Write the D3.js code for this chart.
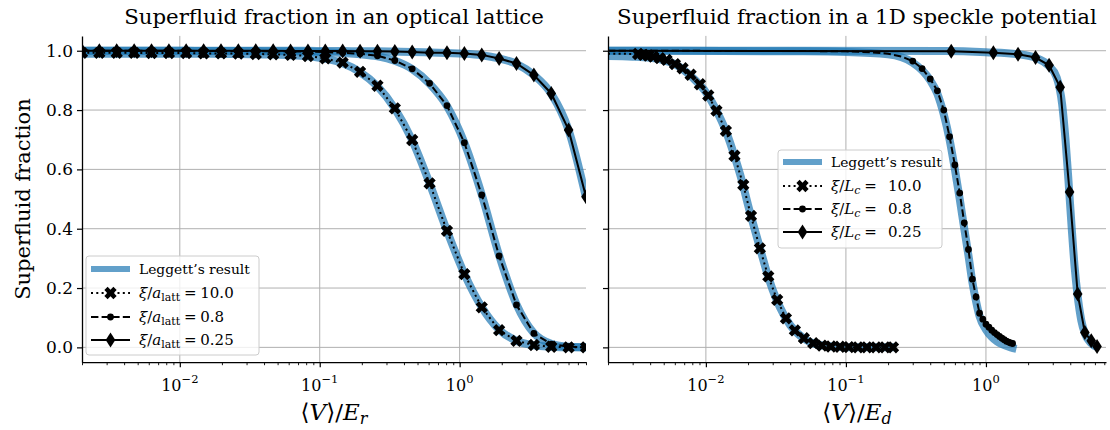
<!DOCTYPE html>
<meta charset="utf-8">
<script src="https://d3js.org/d3.v7.min.js"></script>
<style>
  body { margin: 0; background: #fff; }
  text { font-family: "DejaVu Serif", "Liberation Serif", serif; fill: #000; }
</style>
<div id="chart"></div>
<script>

// ---- data: optical lattice (left panel) ----
var lattV = [0.002, 0.00266, 0.00354, 0.00472, 0.00628, 0.00836, 0.0111, 0.0148, 0.0197, 0.0262,
             0.0349, 0.0465, 0.0619, 0.0824, 0.1096, 0.1459, 0.1943, 0.2586, 0.3442, 0.4582,
             0.6099, 0.8119, 1.081, 1.439, 1.915, 2.549, 3.393, 4.516, 6.011, 8.0];
var lattSim10  = [0.993, 0.993, 0.993, 0.993, 0.992, 0.992, 0.992, 0.991, 0.991, 0.990,
                  0.989, 0.988, 0.986, 0.982, 0.974, 0.960, 0.929, 0.882, 0.806, 0.699,
                  0.553, 0.393, 0.247, 0.135, 0.058, 0.022, 0.008, 0.002, 0.000, 0.000];
var lattSim08  = [1.000, 1.000, 1.000, 1.000, 1.000, 1.000, 1.000, 0.999, 0.999, 0.999,
                  0.999, 0.998, 0.998, 0.997, 0.995, 0.993, 0.990, 0.983, 0.967, 0.939,
                  0.890, 0.815, 0.690, 0.514, 0.308, 0.143, 0.047, 0.011, 0.002, 0.000];
var lattSim025 = [1.000, 1.000, 1.000, 1.000, 1.000, 1.000, 1.000, 1.000, 1.000, 1.000,
                  1.000, 1.000, 0.999, 0.999, 0.999, 0.999, 0.998, 0.998, 0.997, 0.996,
                  0.993, 0.993, 0.991, 0.986, 0.974, 0.957, 0.918, 0.856, 0.733, 0.508];
var lattLeggett10  = [0.990, 0.990, 0.990, 0.990, 0.990, 0.990, 0.990, 0.990, 0.989, 0.989,
                      0.988, 0.987, 0.985, 0.981, 0.973, 0.958, 0.928, 0.880, 0.805, 0.698,
                      0.553, 0.393, 0.248, 0.136, 0.060, 0.022, 0.007, 0.002, 0.000, 0.000];
var lattLeggett08  = [1.000, 1.000, 1.000, 1.000, 1.000, 1.000, 1.000, 0.999, 0.999, 0.999,
                      0.999, 0.998, 0.998, 0.997, 0.995, 0.992, 0.988, 0.981, 0.966, 0.938,
                      0.889, 0.814, 0.690, 0.515, 0.310, 0.145, 0.048, 0.012, 0.002, 0.000];
var lattLeggett025 = [1.000, 1.000, 1.000, 1.000, 1.000, 1.000, 1.000, 1.000, 1.000, 1.000,
                      1.000, 1.000, 1.000, 1.000, 0.999, 0.999, 0.998, 0.998, 0.997, 0.996,
                      0.994, 0.992, 0.990, 0.985, 0.974, 0.956, 0.918, 0.855, 0.732, 0.505];

// ---- data: 1D speckle (right panel) ----
var speckleV10   = [0, 0.00328, 0.00357, 0.00387, 0.00421, 0.00469, 0.00524, 0.00601, 0.00682, 0.00778,
                    0.00906, 0.0104, 0.0119, 0.0139, 0.0160, 0.0185, 0.0210, 0.0243, 0.0279, 0.0323,
                    0.0373, 0.0432, 0.0501, 0.0584, 0.0675, 0.0782, 0.0906, 0.105, 0.122, 0.141,
                    0.164, 0.190, 0.217];
var speckleSim10 = [0.990, 0.989, 0.986, 0.984, 0.980, 0.975, 0.969, 0.955, 0.941, 0.919,
                    0.887, 0.849, 0.798, 0.730, 0.646, 0.548, 0.443, 0.334, 0.239, 0.160,
                    0.098, 0.057, 0.031, 0.014, 0.006, 0.003, 0.002, 0.001, 0.000, 0.000,
                    0.000, 0.000, 0.000];
var speckleV08   = [0, 0.05, 0.1, 0.15, 0.2, 0.25, 0.3, 0.35, 0.4, 0.45, 0.5, 0.55, 0.6, 0.65, 0.7, 0.75,
                    0.8, 0.85, 0.9, 0.95, 1.0, 1.05, 1.1, 1.15, 1.2, 1.25, 1.3, 1.35, 1.4, 1.45, 1.5, 1.55];
var speckleSim08 = [1.000, 0.999, 0.998, 0.995, 0.990, 0.980, 0.965, 0.940, 0.905, 0.865, 0.800, 0.710,
                    0.615, 0.520, 0.420, 0.330, 0.230, 0.170, 0.115, 0.095, 0.078, 0.068, 0.058, 0.050,
                    0.043, 0.037, 0.031, 0.026, 0.021, 0.018, 0.015, 0.013];
var speckleV025   = [0, 0.565, 1.13, 1.695, 2.26, 2.825, 3.39, 3.955, 4.52, 5.085, 5.65, 6.215];
var speckleSim025 = [1.000, 0.998, 0.993, 0.988, 0.977, 0.951, 0.877, 0.524, 0.180, 0.050, 0.022, 0.003];

var speckleLeggV10  = [0.002, 0.003, 0.004, 0.005, 0.006, 0.008, 0.01, 0.012, 0.014, 0.016, 0.018,
                       0.02, 0.024, 0.028, 0.032, 0.036, 0.04, 0.05, 0.06, 0.08, 0.12, 0.22];
var speckleLegg10   = [0.982, 0.980, 0.976, 0.968, 0.955, 0.910, 0.860, 0.795, 0.725, 0.645, 0.565,
                       0.480, 0.345, 0.235, 0.160, 0.110, 0.075, 0.030, 0.012, 0.003, 0.000, 0.000];
var speckleLeggV08  = [0.002, 0.05, 0.1, 0.2, 0.3, 0.4, 0.45, 0.5, 0.55, 0.6, 0.65, 0.7, 0.75, 0.8,
                       0.85, 0.9, 1.0, 1.1, 1.2, 1.35, 1.5, 1.65];
var speckleLegg08   = [1.000, 0.998, 0.996, 0.988, 0.960, 0.900, 0.855, 0.785, 0.700, 0.600, 0.500,
                       0.400, 0.310, 0.220, 0.155, 0.105, 0.060, 0.035, 0.020, 0.008, 0.000, -0.005];
var speckleLeggV025 = [0.002, 0.5, 1.0, 1.7, 2.3, 2.8, 3.2, 3.5, 3.7, 3.9, 4.1, 4.3, 4.5, 4.8, 5.1, 5.6, 6.3];
var speckleLegg025  = [1.000, 0.999, 0.995, 0.988, 0.975, 0.950, 0.910, 0.820, 0.700, 0.550, 0.400,
                       0.270, 0.180, 0.090, 0.045, 0.015, 0.000];

// tick values
var xMajorTicks = [0.01, 0.1, 1];
var xTickExponents = ["\u22122", "\u22121", "0"];
var yTicks = [0.0, 0.2, 0.4, 0.6, 0.8, 1.0];

var zipXY = function(xs, ys) { return xs.map(function(v, i) { return [v, ys[i]]; }); };

var panels = [
  {
    left: 82, right: 586, xmax: 8,
    title: "Superfluid fraction in an optical lattice",
    xsub: "r",
    leggett: [zipXY(lattV, lattLeggett10), zipXY(lattV, lattLeggett08), zipXY(lattV, lattLeggett025)],
    sims: [
      {data: zipXY(lattV, lattSim10), dash: "2,3.3", marker: "X", value: "10.0", markMin: 0},
      {data: zipXY(lattV, lattSim08), dash: "7.4,3.2", marker: "o", value: "0.8", markMin: 0},
      {data: zipXY(lattV, lattSim025), dash: null, marker: "d", value: "0.25", markMin: 0}
    ],
    legend: {x: 86, y: 256, w: 173, h: 99, rows: [269, 293, 317, 340], sub: "a", subsub: "latt", gap: ""}
  },
  {
    left: 608, right: 1106, xmax: 7.2,
    title: "Superfluid fraction in a 1D speckle potential",
    xsub: "d",
    leggett: [zipXY(speckleLeggV10, speckleLegg10), zipXY(speckleLeggV08, speckleLegg08), zipXY(speckleLeggV025, speckleLegg025)],
    sims: [
      {data: zipXY(speckleV10, speckleSim10), dash: "2,3.3", marker: "X", value: "10.0", markMin: 0},
      {data: zipXY(speckleV08, speckleSim08), dash: "7.4,3.2", marker: "o", value: "0.8", markMin: 0.3},
      {data: zipXY(speckleV025, speckleSim025), dash: null, marker: "d", value: "0.25", markMin: 0}
    ],
    legend: {x: 778, y: 150, w: 164, h: 98, rows: [162, 186, 209, 232], sub: "L", subsub: "c", gap: "\u2002"}
  }
];

var yTop = 35.9, yBottom = 362.2;
var blue = "#1f77b4";

var svg = d3.select("#chart")
  .append("svg")
    .attr("width", 1110)
    .attr("height", 430);

// marker shapes
function markerPath(type) {
  if (type == "o") {
    return d3.symbol(d3.symbolCircle, Math.PI * 3.4 * 3.4)();
  }
  if (type == "d") {
    return "M0,-7.5L4.8,0L0,7.5L-4.8,0Z";
  }
  // filled X
  var L = 6.4, b = 2.3, c = Math.SQRT1_2;
  var pts = [[b,-L],[b,-b],[L,-b],[L,b],[b,b],[b,L],[-b,L],[-b,b],[-L,b],[-L,-b],[-b,-b],[-b,-L]];
  return "M" + pts.map(function(p) { return [(p[0] - p[1]) * c, (p[0] + p[1]) * c].join(","); }).join("L") + "Z";
}

var y = d3.scaleLinear().domain([-0.05, 1.05]).range([yBottom, yTop]);

panels.forEach(function(p, pi) {

  var x = d3.scaleLog().domain([0.002, p.xmax]).range([p.left, p.right]);
  var xmin = 0.002;
  var g = svg.append("g");

  // grid
  g.selectAll("line.vgrid").data(xMajorTicks).enter().append("line")
    .attr("x1", function(d) { return x(d); }).attr("x2", function(d) { return x(d); })
    .attr("y1", yTop).attr("y2", yBottom)
    .attr("stroke", "#b0b0b0").attr("stroke-width", 1);
  g.selectAll("line.hgrid").data(yTicks).enter().append("line")
    .attr("x1", p.left).attr("x2", p.right)
    .attr("y1", function(d) { return y(d); }).attr("y2", function(d) { return y(d); })
    .attr("stroke", "#b0b0b0").attr("stroke-width", 1);

  // clip to axes area
  g.append("clipPath").attr("id", "clip" + pi)
    .append("rect").attr("x", p.left).attr("y", yTop)
    .attr("width", p.right - p.left).attr("height", yBottom - yTop);
  var plot = g.append("g").attr("clip-path", "url(#clip" + pi + ")");

  var lineSmooth = d3.line()
    .curve(d3.curveMonotoneX)
    .x(function(d) { return x(Math.max(d[0], xmin)); })
    .y(function(d) { return y(d[1]); });
  var lineStraight = d3.line()
    .x(function(d) { return x(Math.max(d[0], xmin)); })
    .y(function(d) { return y(d[1]); });

  // Leggett's result
  p.leggett.forEach(function(s) {
    plot.append("path")
      .attr("d", lineSmooth(s))
      .attr("fill", "none")
      .attr("stroke", blue)
      .attr("stroke-opacity", 0.7)
      .attr("stroke-width", 8);
  });

  // simulations
  p.sims.forEach(function(s) {
    plot.append("path")
      .attr("d", lineStraight(s.data))
      .attr("fill", "none")
      .attr("stroke", "black")
      .attr("stroke-width", 2)
      .attr("stroke-dasharray", s.dash);
    plot.selectAll(null)
      .data(s.data.filter(function(d) { return d[0] > 0 && d[0] >= s.markMin; }))
      .enter().append("path")
      .attr("d", markerPath(s.marker))
      .attr("transform", function(d) { return "translate(" + x(d[0]) + "," + y(d[1]) + ")"; })
      .attr("fill", "black");
  });

  // Y axis
  var yAxis = d3.axisLeft(y).tickValues(yTicks).tickSize(5).tickSizeOuter(0).tickPadding(4)
    .tickFormat(pi == 0 ? d3.format(".1f") : "");
  g.append("g")
    .attr("transform", "translate(" + p.left + ",0)")
    .call(yAxis)
    .call(function(a) {
      a.attr("font-family", null).attr("font-size", 17);
      a.selectAll("line").attr("stroke-width", 1.2);
      a.select(".domain").attr("stroke-width", 1.3);
    });

  // X axis
  var minorTicks = [];
  [0.001, 0.01, 0.1, 1].forEach(function(e) {
    for (var m = 2; m <= 9; m++) {
      var v = m * e;
      if (v >= 0.002 && v <= p.xmax) minorTicks.push(v);
    }
  });
  var xAxis = d3.axisBottom(x).tickValues(xMajorTicks).tickSize(5).tickSizeOuter(0).tickFormat("");
  var gx = g.append("g")
    .attr("transform", "translate(0," + yBottom + ")")
    .call(xAxis);
  gx.selectAll("line").attr("stroke-width", 1.2);
  gx.select(".domain").attr("stroke-width", 1.3);
  g.append("g")
    .attr("transform", "translate(0," + yBottom + ")")
    .call(d3.axisBottom(x).tickValues(minorTicks).tickSize(3).tickSizeOuter(0).tickFormat(""))
    .call(function(a) { a.select(".domain").remove(); a.selectAll("line").attr("stroke-width", 0.9); });

  xMajorTicks.forEach(function(t, i) {
    var lab = g.append("text")
      .attr("x", x(t)).attr("y", 391)
      .attr("text-anchor", "middle")
      .attr("font-size", 16);
    lab.append("tspan").text("10");
    lab.append("tspan").attr("dy", -8).attr("font-size", 11.5).text(xTickExponents[i]);
  });

  // X label
  var xl = g.append("text")
    .attr("x", (p.left + p.right) / 2).attr("y", 420)
    .attr("text-anchor", "middle")
    .attr("font-size", 23);
  xl.append("tspan").text("\u27E8");
  xl.append("tspan").attr("font-style", "italic").text("V");
  xl.append("tspan").text("\u27E9/");
  xl.append("tspan").attr("font-style", "italic").text("E");
  xl.append("tspan").attr("font-style", "italic").attr("font-size", 16).attr("dy", 4).text(p.xsub);

  // title
  g.append("text")
    .attr("x", (p.left + p.right) / 2).attr("y", 24)
    .attr("text-anchor", "middle")
    .attr("font-size", 21.3)
    .text(p.title);

  // legend
  var lg = p.legend;
  var leg = g.append("g");
  leg.append("rect")
    .attr("x", lg.x).attr("y", lg.y).attr("width", lg.w).attr("height", lg.h)
    .attr("rx", 3)
    .attr("fill", "white").attr("fill-opacity", 0.8)
    .attr("stroke", "#cccccc").attr("stroke-width", 1);
  var hx0 = lg.x + 5, hx1 = lg.x + 44, tx = lg.x + 53;
  leg.append("line")
    .attr("x1", hx0).attr("x2", hx1).attr("y1", lg.rows[0]).attr("y2", lg.rows[0])
    .attr("stroke", blue).attr("stroke-opacity", 0.7).attr("stroke-width", 6);
  leg.append("text")
    .attr("x", tx).attr("y", lg.rows[0] + 4.5)
    .attr("font-size", 13.8)
    .text("Leggett\u2019s result");
  p.sims.forEach(function(s, i) {
    var ry = lg.rows[i + 1];
    leg.append("line")
      .attr("x1", hx0).attr("x2", hx1).attr("y1", ry).attr("y2", ry)
      .attr("stroke", "black").attr("stroke-width", 2)
      .attr("stroke-dasharray", s.dash);
    leg.append("path")
      .attr("d", markerPath(s.marker))
      .attr("transform", "translate(" + ((hx0 + hx1) / 2) + "," + ry + ")")
      .attr("fill", "black");
    var t = leg.append("text")
      .attr("x", tx).attr("y", ry + 5)
      .attr("font-size", 15);
    t.append("tspan").attr("font-style", "italic").text("\u03BE");
    t.append("tspan").text("/");
    t.append("tspan").attr("font-style", "italic").text(lg.sub);
    t.append("tspan").attr("font-size", 11).attr("dy", 3)
      .attr("font-style", lg.subsub == "c" ? "italic" : null).text(lg.subsub);
    t.append("tspan").attr("dy", -3).text("\u2005=\u2005" + lg.gap + s.value);
  });
});

// Y label
svg.append("text")
  .attr("transform", "translate(30," + ((yTop + yBottom) / 2) + ") rotate(-90)")
  .attr("text-anchor", "middle")
  .attr("font-size", 21)
  .text("Superfluid fraction");

</script>
